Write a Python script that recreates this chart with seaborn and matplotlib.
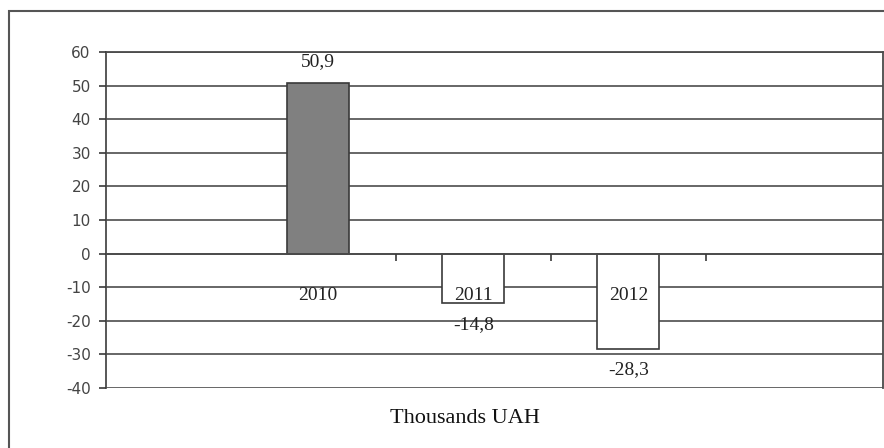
import matplotlib
matplotlib.use("Agg")
from matplotlib import pyplot as plt
from matplotlib.patches import Rectangle
import seaborn as sns
import pandas as pd

# data
years = ["2010", "2011", "2012"]
values = [50.9, -14.8, -28.3]
value_labels = ["50,9", "-14,8", "-28,3"]
bar_colors = ["#808080", "#ffffff", "#ffffff"]
y_ticks = [-40, -30, -20, -10, 0, 10, 20, 30, 40, 50, 60]

df = pd.DataFrame({"year": years, "value": values})

sns.set_style("white")
plt.rcParams["font.family"] = ["DejaVu Sans"]

fig = plt.figure(figsize=(8.84, 4.48), dpi=100)
ax = fig.add_axes([106 / 884, 1 - 388 / 448, (883 - 106) / 884, (388 - 52) / 448])

# grid lines first so the bars sit on top of them
for t in y_ticks:
    ax.axhline(t, color="#5a5a5a", lw=1.3, zorder=1)

sns.barplot(data=df, x="year", y="value", hue="year", palette=bar_colors,
            width=0.4, edgecolor="#3a3a3a", linewidth=1.2, legend=False,
            saturation=1, ax=ax, zorder=2)

# x axis runs along zero (set before the ticks, it resets them)
ax.spines["bottom"].set_position(("data", 0))
ax.set_axisbelow(False)

ax.set_ylim(-40, 60)
ax.set_xlim(-1.366, 3.64)
ax.set_yticks(y_ticks)
ax.set_yticklabels([str(t) for t in y_ticks], fontsize=11, color="#444444")
ax.tick_params(axis="y", left=True, length=5, width=1.2, color="#3a3a3a", pad=6)

# category labels under the zero line, tick marks between categories
ax.set_xticks(range(len(years)))
ax.set_xticklabels(years, fontsize=14, family="Liberation Serif", color="#222222")
ax.tick_params(axis="x", which="major", bottom=True, length=0, pad=24)
ax.set_xticks([0.5, 1.5, 2.5], minor=True)
ax.tick_params(axis="x", which="minor", bottom=True, length=5, width=1.2,
               color="#3a3a3a", direction="out")

for sp in ["left", "right", "bottom", "top"]:
    ax.spines[sp].set_color("#4a4a4a")
    ax.spines[sp].set_linewidth(1.3)
ax.set_xlabel("")
ax.set_ylabel("")

# value labels
for i, (v, lab) in enumerate(zip(values, value_labels)):
    off = 15 if v > 0 else -15
    ax.annotate(lab, (i, v), xytext=(0, off), textcoords="offset points",
                ha="center", va="center", fontsize=14, family="Liberation Serif",
                color="#222222")

fig.text(465 / 884, 1 - 418 / 448, "Thousands UAH", ha="center", va="center",
         fontsize=16, family="Liberation Serif", color="#111111")

# outer frame, cut off on the right and at the bottom
fig.patches.append(Rectangle((9 / 884, -0.05), 1.0, 1 - 11 / 448 + 0.05,
                             transform=fig.transFigure, fill=False,
                             edgecolor="#555555", lw=1.5))

fig.savefig("out.png", dpi=100)
